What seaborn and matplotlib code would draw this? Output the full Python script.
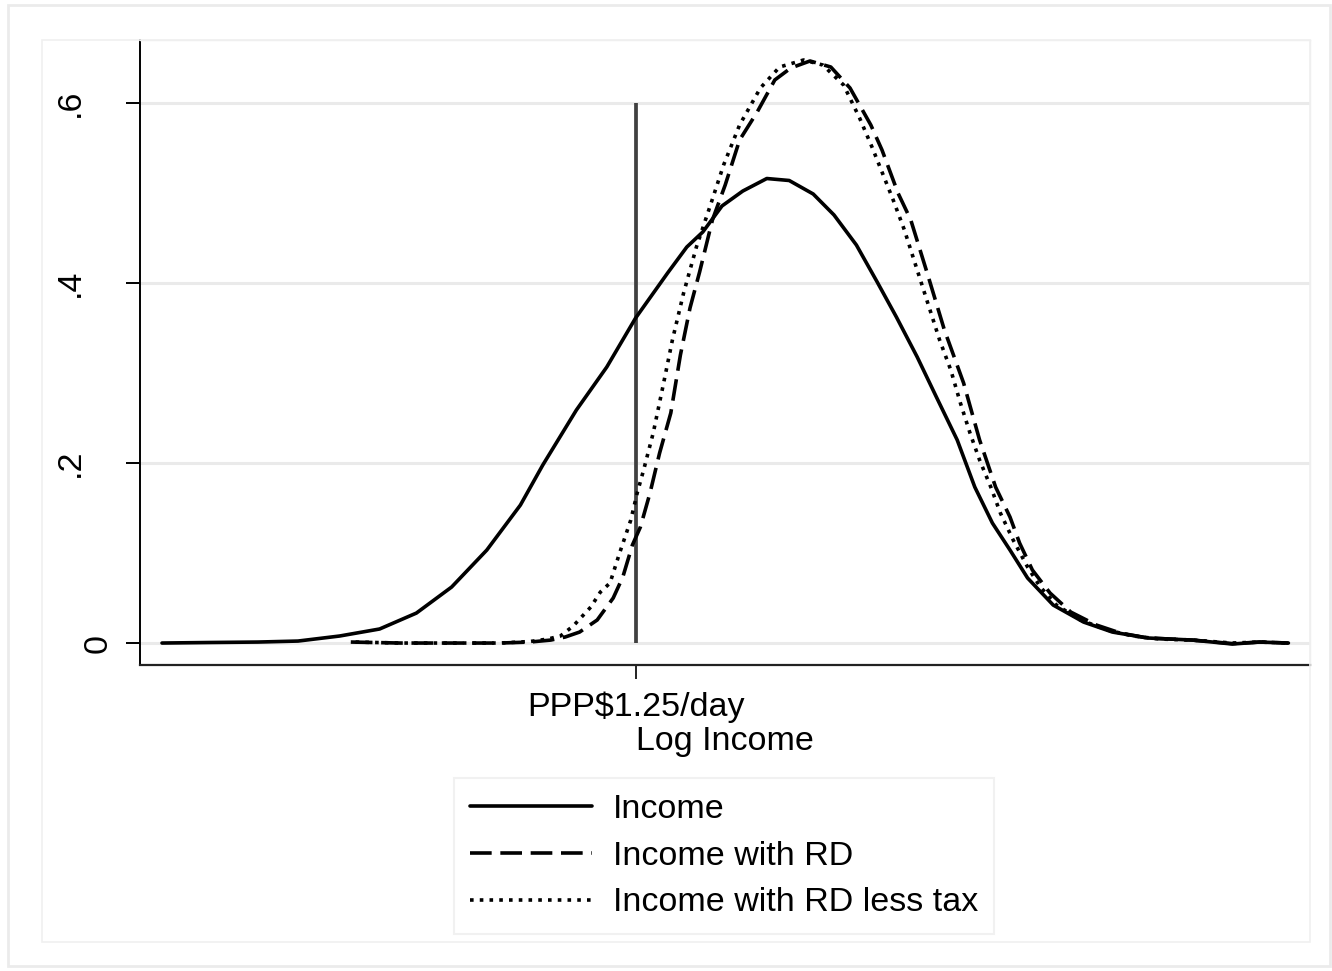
import numpy as np
import pandas as pd
import matplotlib
matplotlib.use("Agg")
import matplotlib.pyplot as plt
import matplotlib.transforms as mtransforms
from matplotlib.patches import Rectangle
import seaborn as sns

sns.set_theme(style="white")
plt.rcParams["font.family"] = ["Liberation Sans", "DejaVu Sans"]
plt.rcParams["text.color"] = "black"
plt.rcParams["xtick.color"] = "black"
plt.rcParams["ytick.color"] = "black"
plt.rcParams["axes.labelcolor"] = "black"

# -- densities (x = log income, y = density) -- #
x_income = [3.00, 3.30, 3.60, 3.85, 4.11, 4.36, 4.59, 4.81, 5.03, 5.24, 5.38,
            5.59, 5.78, 5.96, 6.16, 6.28, 6.38, 6.50, 6.63, 6.78, 6.92, 7.07,
            7.20, 7.34, 7.47, 7.59, 7.72, 7.84, 7.97, 8.08, 8.19, 8.30, 8.41,
            8.57, 8.76, 8.94, 9.16, 9.44, 9.69, 9.86, 10.04]
y_income = [0.000, 0.0006, 0.0011, 0.0022, 0.0078, 0.0156, 0.0333, 0.0622,
            0.1033, 0.1533, 0.1978, 0.2589, 0.3067, 0.3611, 0.4111, 0.440,
            0.4567, 0.4856, 0.5022, 0.5161, 0.5139, 0.4989, 0.4756, 0.4422,
            0.4011, 0.3622, 0.3178, 0.2733, 0.2256, 0.1733, 0.1333, 0.1033,
            0.0722, 0.0422, 0.0233, 0.0122, 0.0056, 0.0033, -0.0011, 0.0011,
            0.000]

x_rd = [4.18, 4.49, 4.80, 5.11, 5.30, 5.43, 5.52, 5.61, 5.72, 5.82, 5.88,
        5.94, 5.99, 6.05, 6.11, 6.18, 6.24, 6.30, 6.36, 6.44, 6.52, 6.61,
        6.72, 6.83, 6.93, 7.05, 7.18, 7.30, 7.43, 7.50, 7.60, 7.68, 7.79,
        7.89, 8.01, 8.11, 8.21, 8.30, 8.36, 8.44, 8.55, 8.68, 8.84, 8.99,
        9.16, 9.44, 9.69, 9.86, 10.04]
y_rd = [0.0011, 0.000, 0.000, 0.000, 0.0011, 0.0033, 0.0067, 0.0122, 0.0256,
        0.050, 0.0733, 0.1089, 0.1289, 0.1667, 0.2111, 0.2556, 0.320, 0.3722,
        0.4122, 0.470, 0.5089, 0.5589, 0.590, 0.6256, 0.6389, 0.6467, 0.640,
        0.6167, 0.5756, 0.5478, 0.500, 0.470, 0.4067, 0.3478, 0.2889, 0.2256,
        0.1733, 0.140, 0.1111, 0.0811, 0.0556, 0.0344, 0.020, 0.0111, 0.0056,
        0.0033, -0.0006, 0.0011, 0.000]

x_rd_tax = [4.21, 4.49, 4.80, 5.11, 5.30, 5.41, 5.49, 5.57, 5.68, 5.74, 5.80,
            5.86, 5.93, 5.97, 6.01, 6.07, 6.13, 6.19, 6.26, 6.34, 6.43, 6.51,
            6.61, 6.74, 6.86, 7.01, 7.13, 7.26, 7.36, 7.44, 7.57, 7.64, 7.74,
            7.80, 7.86, 7.93, 7.99, 8.05, 8.11, 8.18, 8.24, 8.32, 8.41, 8.49,
            8.59, 8.74, 8.91, 9.07, 9.24, 9.44, 9.69, 9.86, 10.04]
y_rd_tax = [0.0011, 0.000, 0.000, 0.000, 0.0017, 0.0044, 0.0078, 0.0189, 0.040,
            0.0567, 0.0667, 0.100, 0.1367, 0.1667, 0.1922, 0.2333, 0.2844,
            0.3367, 0.3889, 0.440, 0.4878, 0.5311, 0.5756, 0.6167, 0.640,
            0.6478, 0.6422, 0.620, 0.5833, 0.550, 0.4922, 0.4589, 0.4033,
            0.370, 0.3367, 0.3033, 0.2667, 0.2333, 0.2033, 0.1733, 0.1444,
            0.1144, 0.0844, 0.0622, 0.0422, 0.0256, 0.0144, 0.0078, 0.0044,
            0.0033, 0.000, 0.0011, 0.000]

series_names = ["Income", "Income with RD", "Income with RD less tax"]
poverty_line = 5.96
poverty_label = "PPP$1.25/day"

df = pd.concat([
    pd.DataFrame({"x": x_income, "y": y_income, "series": series_names[0]}),
    pd.DataFrame({"x": x_rd, "y": y_rd, "series": series_names[1]}),
    pd.DataFrame({"x": x_rd_tax, "y": y_rd_tax, "series": series_names[2]}),
], ignore_index=True)

fig = plt.figure(figsize=(13.32, 9.71), dpi=100)
W, H = 1332, 971
ax = fig.add_axes([140 / W, 1 - 665 / H, 1170 / W, 625 / H])

# Stata-like outer frames
fig.add_artist(Rectangle((8 / W, 1 - 966 / H), 1322 / W, 961 / H, transform=fig.transFigure,
                         fill=False, edgecolor="#ebebeb", linewidth=2))
fig.add_artist(Rectangle((42 / W, 1 - 942 / H), 1268 / W, 902 / H, transform=fig.transFigure,
                         fill=False, edgecolor="#f0f0f0", linewidth=1.2))

ax.vlines(poverty_line, 0, 0.6, color="#404040", linewidth=2.7, zorder=1)

line_w = 2.6
sns.lineplot(
    data=df, x="x", y="y",
    style="series", style_order=series_names,
    dashes={series_names[0]: "", series_names[1]: (6, 2.4), series_names[2]: (1, 1.7)},
    color="black", linewidth=line_w, estimator=None, sort=False,
    ax=ax, zorder=3,
)
for line in ax.get_lines():
    line.set_linewidth(line_w)
    line.set_dash_capstyle("butt")

# Axis limits
ax.set_xlim(2.8625, 10.175)
ax.set_ylim(-0.0244, 0.67)

# Grid and spines
ax.set_axisbelow(True)
ax.yaxis.grid(True, color="#eaeaea", linewidth=2.2)
ax.xaxis.grid(False)
ax.spines.left.set_color("black")
ax.spines.bottom.set_color("#222222")
ax.spines.left.set_linewidth(1.4)
ax.spines.bottom.set_linewidth(1.6)
ax.spines.top.set_color("#eeeeee")
ax.spines.right.set_color("#eeeeee")
ax.spines.top.set_linewidth(1)
ax.spines.right.set_linewidth(1)

# Ticks
ax.set_yticks([0, 0.2, 0.4, 0.6])
ax.set_yticklabels(["0", ".2", ".4", ".6"], rotation=90, va="center", fontsize=24.5, color="black")
ax.set_xticks([poverty_line])
ax.set_xticklabels([poverty_label], fontsize=24.5, color="black")
ax.tick_params(axis="y", direction="out", length=10, width=1.4, pad=29, color="black", left=True)
ax.tick_params(axis="x", direction="out", length=10, width=1.4, pad=9, color="#222222", bottom=True)

# "0" sits closer to the axis in the original
lab0 = ax.yaxis.get_major_ticks()[0].label1
lab0.set_transform(lab0.get_transform() + mtransforms.ScaledTranslation(0.28, 0, fig.dpi_scale_trans))

ax.set_xlabel("Log Income", fontsize=24.5, labelpad=2, color="black")
ax.set_ylabel("")

sns.move_legend(
    ax, "center", bbox_to_anchor=(724 / W, 1 - 856 / H), bbox_transform=fig.transFigure,
    title=None, frameon=True, fancybox=False, fontsize=24.5, handlelength=3.6,
    handletextpad=0.6, labelspacing=0.47, borderpad=0.47, edgecolor="#eeeeee",
)
leg = ax.get_legend()
leg.get_frame().set_linewidth(1.5)
for t in leg.get_texts():
    t.set_color("black")
for h in leg.legend_handles:
    h.set_color("black")
    h.set_linewidth(line_w)

fig.savefig("out.png", dpi=100, facecolor="white")
plt.close()
